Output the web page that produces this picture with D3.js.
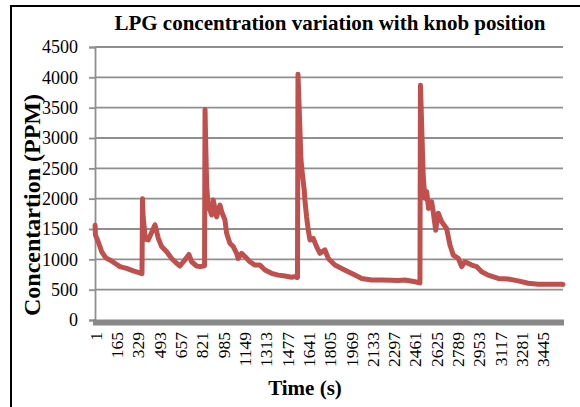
<!DOCTYPE html>
<html>
<head>
<meta charset="utf-8">
<script src="https://cdn.jsdelivr.net/npm/d3@7"></script>
<style>
  body { margin: 0; background: #fff; }
  svg { display: block; font-family: "Liberation Serif", "Times New Roman", serif; }
</style>
</head>
<body>
<div id="chart"></div>
<script>
// values (time in s, concentration in PPM)
const timeSec = [1, 4, 25, 40, 52, 77, 95, 115, 154, 192, 244, 295, 346, 362, 366, 371, 388, 410,
  462, 487, 513, 552, 590, 628, 654, 692, 723, 744, 782, 810, 843, 847, 851, 860, 872,
  885, 898, 910, 936, 962, 975, 1000, 1013, 1038, 1064, 1090, 1102, 1128, 1154, 1192,
  1231, 1269, 1308, 1359, 1410, 1462, 1513, 1538, 1558, 1562, 1585, 1595, 1610, 1615,
  1628, 1641, 1654, 1679, 1705, 1731, 1769, 1795, 1846, 1898, 1948, 2000, 2052, 2128,
  2205, 2282, 2333, 2385, 2462, 2500, 2504, 2525, 2538, 2552, 2566, 2590, 2602, 2621,
  2641, 2667, 2705, 2731, 2756, 2795, 2821, 2846, 2898, 2936, 2975, 3025, 3102, 3179,
  3256, 3333, 3410, 3487, 3590, 3600]
const ppm = [1560, 1400, 1290, 1200, 1125, 1045, 1010, 990, 935, 880, 850, 810, 775, 765, 2000, 1700, 1330, 1320,
  1570, 1350, 1210, 1125, 1015, 935, 890, 990, 1080, 960, 890, 880, 895, 3470, 3000, 2200, 1850,
  1810, 1730, 1980, 1700, 1895, 1785, 1650, 1430, 1265, 1210, 1100, 1015, 1100, 1045, 960,
  905, 905, 825, 770, 740, 725, 705, 715, 700, 4050, 2640, 2420, 2140, 1980,
  1700, 1480, 1320, 1345, 1210, 1100, 1155, 1015, 905, 850, 795, 740, 685, 660,
  660, 655, 650, 660, 630, 612, 3870, 2390, 2005, 2115, 1840, 1950, 1785, 1480,
  1760, 1620, 1510, 1235, 1070, 1015, 880, 960, 905, 880, 795, 740, 685, 675,
  645, 605, 590, 590, 590, 585]
const nSamples = 3600
const yTicks = [0, 500, 1000, 1500, 2000, 2500, 3000, 3500, 4000, 4500]
const xTicks = [1, 165, 329, 493, 657, 821, 985, 1149, 1313, 1477, 1641, 1805, 1969,
  2133, 2297, 2461, 2625, 2789, 2953, 3117, 3281, 3445]

const data = timeSec.map((t, i) => ({ t: t, v: ppm[i] }))

const W = 580, H = 407
const plot = { left: 95, right: 563, top: 47, bottom: 320 }
const gridColor = "#8f8f8f"

const svg = d3.select("#chart").append("svg")
  .attr("width", W)
  .attr("height", H)

// outer frame (only left and top edges show in the reference)
svg.append("path")
  .attr("d", `M11,${H} L11,6 L${W},6`)
  .attr("fill", "none")
  .attr("stroke", "#000")
  .attr("stroke-width", 2)

const x = d3.scaleLinear()
  .domain([0.5, nSamples + 0.5])
  .range([plot.left, plot.right])

const y = d3.scaleLinear()
  .domain([0, 4500])
  .range([plot.bottom, plot.top])

// gridlines
svg.append("g")
  .selectAll("line")
  .data(yTicks.filter(d => d > 0))
  .join("line")
  .attr("x1", plot.left)
  .attr("x2", plot.right)
  .attr("y1", d => y(d))
  .attr("y2", d => y(d))
  .attr("stroke", gridColor)
  .attr("stroke-width", 1.8)

// y axis
const yAxis = svg.append("g")
  .attr("transform", `translate(${plot.left},0)`)
  .call(d3.axisLeft(y).tickValues(yTicks).tickSize(6).tickPadding(11).tickFormat(d3.format("d")))
yAxis.select(".domain").attr("stroke", gridColor).attr("stroke-width", 1.8)
yAxis.selectAll(".tick line").attr("stroke", gridColor).attr("stroke-width", 1.8)
yAxis.selectAll("text")
  .attr("font-family", "Liberation Serif, Times New Roman, serif")
  .attr("font-size", "18px")
  .attr("fill", "#000")

// x axis: thick grey bar + rotated category labels
svg.append("line")
  .attr("x1", plot.left - 2)
  .attr("x2", plot.right + 1)
  .attr("y1", plot.bottom + 2.5)
  .attr("y2", plot.bottom + 2.5)
  .attr("stroke", "#888")
  .attr("stroke-width", 6)

const xAxis = svg.append("g")
  .attr("transform", `translate(0,${plot.bottom})`)
  .call(d3.axisBottom(x).tickValues(xTicks).tickSize(0).tickFormat(d3.format("d")))
xAxis.select(".domain").remove()
xAxis.selectAll("text")
  .attr("transform", "rotate(-90)")
  .attr("text-anchor", "end")
  .attr("x", -12)
  .attr("y", 0)
  .attr("dy", "0.35em")
  .attr("font-family", "Liberation Serif, Times New Roman, serif")
  .attr("font-size", "17.5px")
  .attr("fill", "#000")

// the series
const line = d3.line()
  .x(d => x(d.t))
  .y(d => y(d.v))

svg.append("path")
  .datum(data)
  .attr("d", line)
  .attr("fill", "none")
  .attr("stroke", "#C0504D")
  .attr("stroke-width", 5)
  .attr("stroke-linejoin", "round")
  .attr("stroke-linecap", "round")

// titles
svg.append("text")
  .attr("x", 330)
  .attr("y", 29.5)
  .attr("text-anchor", "middle")
  .attr("font-weight", "bold")
  .attr("font-size", "21px")
  .text("LPG concentration variation with knob position")

svg.append("text")
  .attr("transform", "translate(40,205) rotate(-90)")
  .attr("text-anchor", "middle")
  .attr("font-weight", "bold")
  .attr("font-size", "24px")
  .text("Concentartion (PPM)")

svg.append("text")
  .attr("x", 305)
  .attr("y", 395)
  .attr("text-anchor", "middle")
  .attr("font-weight", "bold")
  .attr("font-size", "21px")
  .text("Time (s)")
</script>
</body>
</html>
